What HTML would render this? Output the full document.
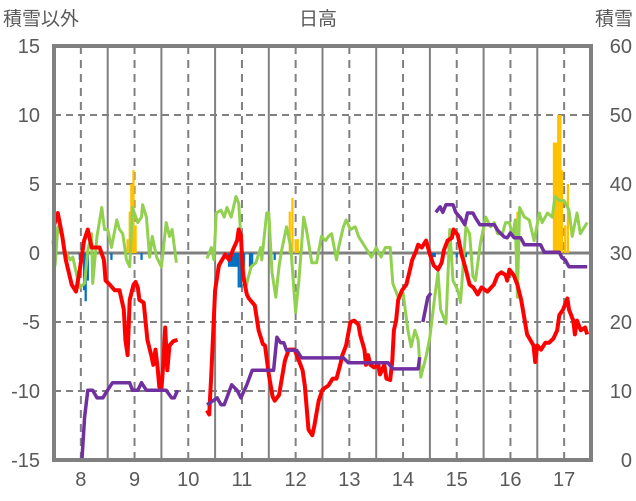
<!DOCTYPE html>
<html><head><meta charset="utf-8">
<style>
body{margin:0;background:#fff;}
svg{display:block;font-family:"Liberation Sans","Noto Sans CJK JP",sans-serif;}
</style></head>
<body>
<svg id="chart" width="636" height="501" viewBox="0 0 636 501" xmlns="http://www.w3.org/2000/svg">
<text x="318" y="25" font-size="19" fill="#595959" text-anchor="middle">日高</text>
<text x="3" y="25" font-size="19" fill="#595959">積雪以外</text>
<text x="633" y="25" font-size="19" fill="#595959" text-anchor="end">積雪</text>
<g id="grid"></g>
<g id="bars"></g>
<g id="lines"></g>
<g id="frame"></g>
<g id="labels"></g>
</svg>
<script>
const leftTicks=[15,10,5,0,-5,-10,-15];
const rightTicks=[60,50,40,30,20,10,0];
const dayLabels=[8,9,10,11,12,13,14,15,16,17];

const redT1=[7.50,7.57,7.65,7.72,7.83,7.91,7.98,8.06,8.13,8.20,8.28,8.35,8.43,8.46,8.54,8.63,8.72,8.80,8.83,8.87,8.91,8.98,9.02,9.06,9.09,9.17,9.24,9.31,9.35,9.39,9.43,9.46,9.50,9.54,9.57,9.61,9.65,9.72,9.80];
const redV1=[2.0,2.9,1.3,-0.5,-2.3,-2.8,-1.2,0.9,1.7,0.4,0.4,0.4,-0.5,-2.0,-2.3,-2.7,-2.7,-4.1,-6.3,-7.4,-3.4,-2.3,-2.1,-2.5,-3.4,-3.6,-6.3,-7.4,-8.1,-7.0,-8.3,-9.7,-9.9,-7.8,-5.4,-8.5,-6.7,-6.4,-6.3];
const redT2=[10.35,10.39,10.43,10.50,10.57,10.69,10.76,10.83,10.91,10.94,10.98,11.02,11.09,11.13,11.24,11.31,11.39,11.43,11.50,11.57,11.61,11.69,11.80,11.87,11.98,12.06,12.13,12.17,12.24,12.31,12.35,12.43,12.50,12.61,12.69,12.76,12.83,12.87,12.94,13.02,13.09,13.17,13.20,13.28,13.31,13.35,13.39,13.46,13.54,13.57,13.65,13.69,13.76,13.80,13.83,13.87,13.91,13.98,14.06,14.13,14.17,14.24,14.28,14.35,14.43,14.50,14.57,14.65,14.72,14.76,14.83,14.91,14.94,15.02,15.09,15.17,15.24,15.31,15.39,15.46,15.57,15.69,15.72,15.76,15.83,15.91,15.94,15.98,16.06,16.13,16.20,16.31,16.43,16.46,16.50,16.57,16.65,16.72,16.80,16.87,16.91,16.98,17.06,17.09,17.17,17.20,17.24,17.31,17.39,17.43];
const redV2=[-11.4,-11.7,-8.8,-2.7,-0.9,-0.1,-0.5,0.2,0.9,1.7,1.3,-1.6,-3.0,-3.3,-3.8,-5.6,-6.6,-6.7,-8.8,-10.4,-10.7,-10.3,-7.8,-7.0,-7.0,-7.8,-8.5,-9.6,-12.8,-13.2,-12.5,-10.7,-9.9,-9.6,-9.1,-9.1,-8.1,-7.4,-6.7,-5.0,-4.9,-5.2,-5.9,-7.0,-8.1,-7.4,-8.1,-8.3,-8.1,-8.8,-8.1,-9.1,-9.2,-7.8,-5.6,-4.9,-3.4,-2.7,-2.3,-1.2,-0.5,0.1,0.6,0.4,0.9,-0.1,-0.9,-1.2,-0.7,0.2,0.9,1.1,1.7,1.3,-0.1,-1.2,-2.3,-2.5,-3.0,-2.5,-2.8,-2.3,-2.0,-1.6,-1.4,-1.6,-2.0,-1.2,-1.6,-2.3,-3.4,-5.9,-6.7,-7.9,-6.7,-7.0,-6.5,-6.5,-6.2,-5.6,-4.5,-4.1,-3.3,-4.1,-4.9,-5.9,-4.9,-5.6,-5.4,-5.9];

const greenT1=[7.48,7.52,7.57,7.65,7.70,7.80,7.85,7.93,7.98,8.07,8.13,8.20,8.22,8.30,8.39,8.44,8.50,8.57,8.67,8.72,8.78,8.85,8.91,8.96,9.06,9.13,9.15,9.22,9.28,9.33,9.41,9.50,9.59,9.65,9.70,9.78];
const greenV1=[0.9,-0.9,1.9,1.2,0.2,-0.5,-0.3,-1.7,-2.5,-2.2,0.2,1.4,-2.2,1.2,3.3,1.7,1.7,0.4,2.4,1.7,1.4,-0.5,-1.0,3.3,2.2,2.6,3.5,2.6,-0.3,1.2,-0.3,-1.0,2.2,1.2,1.7,-0.7];
const greenT2=[10.35,10.43,10.48,10.52,10.61,10.67,10.72,10.80,10.89,10.94,11.00,11.07,11.17,11.26,11.35,11.37,11.46,11.50,11.56,11.63,11.69,11.74,11.83,11.91,12.00,12.06,12.15,12.20,12.30,12.39,12.48,12.56,12.61,12.67,12.76,12.80,12.89,12.94,13.02,13.11,13.17,13.30,13.41,13.50,13.59,13.67,13.76,13.81,13.91,14.00,14.09,14.15,14.22,14.28,14.33,14.43,14.50,14.59,14.65,14.70,14.80,14.87,14.93,15.02,15.07,15.17,15.24,15.30,15.35,15.44,15.54,15.63,15.70,15.76,15.85,15.91,15.98,16.04,16.09,16.13,16.17,16.26,16.35,16.44,16.54,16.59,16.69,16.78,16.83,16.91,17.00,17.09,17.15,17.24,17.30,17.43];
const greenV2=[-0.4,0.4,-0.5,2.9,3.1,2.6,3.3,2.6,4.1,3.6,0,-2.5,-1.0,-0.7,0.4,-0.5,2.9,2.9,-1.4,-3.2,-1.0,0.2,1.9,0.4,-4.3,-2.0,2.6,1.7,-0.7,-0.7,1.2,0.9,1.2,1.4,-0.5,0.4,1.9,2.4,1.7,1.9,1.2,0.4,-0.3,0.4,-0.3,0.4,0.4,-2.2,-3.2,-2.9,-5.6,-6.8,-5.6,-6.3,-9.0,-7.5,-6.1,-3.2,-1.4,-4.1,-5.1,1.7,-2.0,-2.7,-3.6,1.9,1.4,-1.7,-2.0,0.7,2.6,1.9,2.2,1.4,1.4,2.2,2.2,1.2,2.4,-3.2,3.3,2.6,2.4,0.9,2.9,2.2,2.9,2.6,4.1,3.8,3.8,3.1,1.2,2.9,1.4,2.2];

const snowT1=[7.48,8.02,8.07,8.13,8.22,8.30,8.41,8.48,8.59,8.91,8.96,9.06,9.13,9.22,9.59,9.69,9.74,9.80];
const snowV1=[0,0,6.2,10.1,10.1,9.0,9.0,9.9,11.2,11.2,10.1,10.1,11.2,10.1,10.1,9.0,9.0,10.1];
const snowT2=[10.35,10.54,10.61,10.67,10.81,10.91,10.98,11.09,11.19,11.59,11.65,11.72,11.78,11.83,12.02,12.11,12.89,12.98,13.72,13.81,14.28,14.31];
const snowV2=[8.0,9.0,8.0,8.0,10.9,10.1,9.0,10.9,13.0,13.0,17.8,17.0,17.0,15.9,15.9,14.8,14.8,14.1,14.1,13.2,13.2,14.9];
const snowT3=[14.37,14.46,14.52];
const snowV3=[20.0,23.6,24.2];
const snowT4=[14.61,14.69,14.74,14.80,14.93,14.98,15.07,15.15,15.20,15.30,15.35,15.43,15.70,15.76,15.81,15.89,15.94,16.00,16.07,16.19,16.26,16.56,16.63,16.91,16.96,17.02,17.09,17.43];
const snowV4=[35.9,36.7,35.9,37.0,37.0,35.9,35.1,34.1,35.8,35.8,35.1,34.1,34.1,33.3,32.9,32.3,32.2,32.9,32.2,32.2,31.2,31.2,30.1,30.1,29.3,29.0,28.0,28.0];

const snowfallT=[8.87,8.91,8.94,8.98,9.02,11.89,11.94,12.00,12.04,16.13,16.81,16.85,16.89,16.93,16.96,17.02,17.07];
const snowfallV=[1,3,5,6,2,3,4,1,1,3,8,8,10,10,6,2,5];
const negT=[7.98,8.02,8.06,8.09,8.13,8.57,9.13,10.76,10.80,10.83,10.87,10.91,10.94,10.98,11.04,11.15,11.19,11.54,11.61,14.56,14.59,15.00,15.17];
const negV=[-0.5,-0.5,-2.7,-3.5,-2,-0.5,-0.5,-1,-1,-1,-1,-1,-2.5,-2.5,-1,-1,-1,-0.5,-0.5,-0.3,-0.3,-0.3,-0.3];

const L=54,R=591,T=46,B=460,D0=7.5,D1=17.5;
const NS='http://www.w3.org/2000/svg';
function xS(d){return L+(d-D0)/(D1-D0)*(R-L);}
function yL(v){return B-(v+15)/30*(B-T);}
function yR(v){return B-v/60*(B-T);}
function mk(tag,attrs,parent){const e=document.createElementNS(NS,tag);for(const k in attrs)e.setAttribute(k,attrs[k]);parent.appendChild(e);return e;}
const grid=document.getElementById('grid'),bars=document.getElementById('bars'),lines=document.getElementById('lines'),frame=document.getElementById('frame'),labels=document.getElementById('labels');

leftTicks.forEach(v=>{
  if(v===15||v===-15||v===0)return;
  const y=yL(v);
  const g=mk('line',{x1:L,x2:R,y1:y,y2:y,stroke:'#808080','stroke-width':2,'stroke-dasharray':'7,5'},grid);
  
  
});
for(let d=8;d<=17;d++){
  const xb=xS(d+0.5);
  if(d<17){const s=mk('line',{x1:xb,x2:xb,y1:T,y2:B,stroke:'#808080','stroke-width':2},grid);
  
  }
  const x=xS(d);
  const dl=mk('line',{x1:x,x2:x,y1:T,y2:B,stroke:'#808080','stroke-width':2,'stroke-dasharray':'8,6'},grid);
  
  
}
const z=mk('line',{x1:L,x2:R,y1:yL(0),y2:yL(0),stroke:'#808080','stroke-width':3},grid);



const bw=(R-L)/(D1-D0)/24;
snowfallT.forEach((t,i)=>{
  const r=mk('rect',{x:xS(t)-bw/2,y:yL(snowfallV[i]),width:bw,height:yL(0)-yL(snowfallV[i]),fill:'#FFC000'},bars);
  
  
});
negT.forEach((t,i)=>{
  const r=mk('rect',{x:xS(t)-bw/2,y:yL(0),width:bw,height:yL(negV[i])-yL(0),fill:'#0070C0'},bars);
  
  
});

function line(ts,vs,ys,color,w,name){
  const p=ts.map((t,i)=>xS(t).toFixed(1)+','+ys(vs[i]).toFixed(1)).join(' ');
  const e=mk('polyline',{points:p,fill:'none',stroke:color,'stroke-width':w,'stroke-linejoin':'round'},lines);
  
  
}
line(greenT1,greenV1,yL,'#92D050',3,'green-series');
line(greenT2,greenV2,yL,'#92D050',3,'green-series');
line(redT1,redV1,yL,'#FF0000',4,'temperature-line');
line(redT2,redV2,yL,'#FF0000',4,'temperature-line');
line(snowT1,snowV1,yR,'#7030A0',3.5,'snow-depth-line');
line(snowT2,snowV2,yR,'#7030A0',3.5,'snow-depth-line');
line(snowT3,snowV3,yR,'#7030A0',3.5,'snow-depth-line');
line(snowT4,snowV4,yR,'#7030A0',3.5,'snow-depth-line');

const fr=mk('rect',{x:L,y:T,width:R-L,height:B-T,fill:'none',stroke:'#808080','stroke-width':4},frame);



leftTicks.forEach(v=>{
  const t=mk('text',{x:40,y:yL(v)+7,'font-size':20,fill:'#595959','text-anchor':'end'},labels);
  t.textContent=v;
  
  
});
rightTicks.forEach(v=>{
  const t=mk('text',{x:632,y:yR(v)+7,'font-size':20,fill:'#595959','text-anchor':'end'},labels);
  t.textContent=v;
  
  
});
dayLabels.forEach(d=>{
  const t=mk('text',{x:xS(d),y:486,'font-size':20,fill:'#595959','text-anchor':'middle'},labels);
  t.textContent=d;
  
  
});
</script>
</body></html>
